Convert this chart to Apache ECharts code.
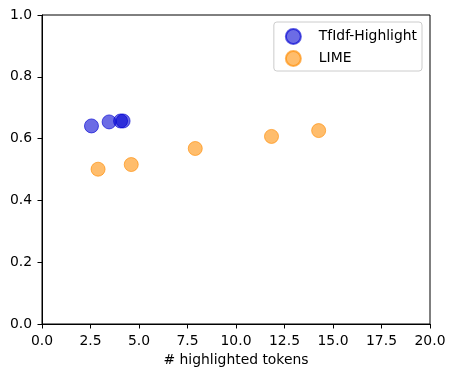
<!DOCTYPE html>
<html>
<head>
<meta charset="utf-8">
<script src="https://cdn.jsdelivr.net/npm/echarts@6/dist/echarts.min.js"></script>
<style>
  body { margin: 0; background: #fff; }
  #chart { width: 454px; height: 376px; }
</style>
</head>
<body>
<div id="chart"></div>
<script>
    // data
    var tfidfX = [2.55, 3.46, 4.05, 4.18];
    var tfidfY = [0.641, 0.654, 0.657, 0.657];
    var limeX = [2.89, 4.6, 7.9, 11.83, 14.26];
    var limeY = [0.501, 0.516, 0.568, 0.607, 0.626];
    var seriesNames = ['TfIdf-Highlight', 'LIME'];
    var xTitle = '# highlighted tokens';

    function pairs(xs, ys) {
        return xs.map(function (x, i) { return [x, ys[i]]; });
    }

    var font = 'DejaVu Sans';
    var fs = 13.9;
    var myChart = echarts.init(document.getElementById('chart'));
    var option = {
        animation: false,
        textStyle: { fontFamily: font },
        grid: {
            left: 42, right: 24, top: 15, bottom: 52,
            show: true, borderColor: '#000', borderWidth: 1
        },
        legend: {
            orient: 'vertical',
            right: 32, top: 22,
            data: seriesNames,
            icon: 'circle',
            itemWidth: 15, itemHeight: 15,
            itemGap: 5,
            padding: [6, 5, 4, 11],
            borderColor: '#ccc', borderWidth: 1, borderRadius: 3,
            textStyle: { fontFamily: font, fontSize: fs, lineHeight: 15, color: '#000', padding: [0, 0, 0, 13] }
        },
        xAxis: {
            type: 'value', min: 0, max: 20, interval: 2.5,
            name: xTitle, nameLocation: 'middle', nameGap: 29,
            nameTextStyle: { fontFamily: font, fontSize: fs, color: '#000' },
            axisLine: { show: true, lineStyle: { color: '#000' } },
            axisTick: { show: true, length: 4.5, lineStyle: { color: '#000' } },
            axisLabel: { fontFamily: font, fontSize: fs, color: '#000', margin: 10,
                formatter: function (v) { return v.toFixed(1); } },
            splitLine: { show: false }
        },
        yAxis: {
            type: 'value', min: 0, max: 1, interval: 0.2,
            axisLine: { show: true, lineStyle: { color: '#000' } },
            axisTick: { show: true, length: 4.5, lineStyle: { color: '#000' } },
            axisLabel: { fontFamily: font, fontSize: fs, color: '#000', margin: 10,
                formatter: function (v) { return v.toFixed(1); } },
            splitLine: { show: false }
        },
        series: [
            {
                name: seriesNames[0],
                type: 'scatter',
                symbolSize: 14,
                itemStyle: { color: 'rgba(0,0,210,0.72)', borderColor: 'rgba(0,0,210,0.8)', borderWidth: 1 },
                data: pairs(tfidfX, tfidfY)
            },
            {
                name: seriesNames[1],
                type: 'scatter',
                symbolSize: 14,
                itemStyle: { color: 'rgba(255,140,0,0.72)', borderColor: 'rgba(255,140,0,0.8)', borderWidth: 1 },
                data: pairs(limeX, limeY)
            }
        ]
    };
    myChart.setOption(option);
</script>
</body>
</html>
